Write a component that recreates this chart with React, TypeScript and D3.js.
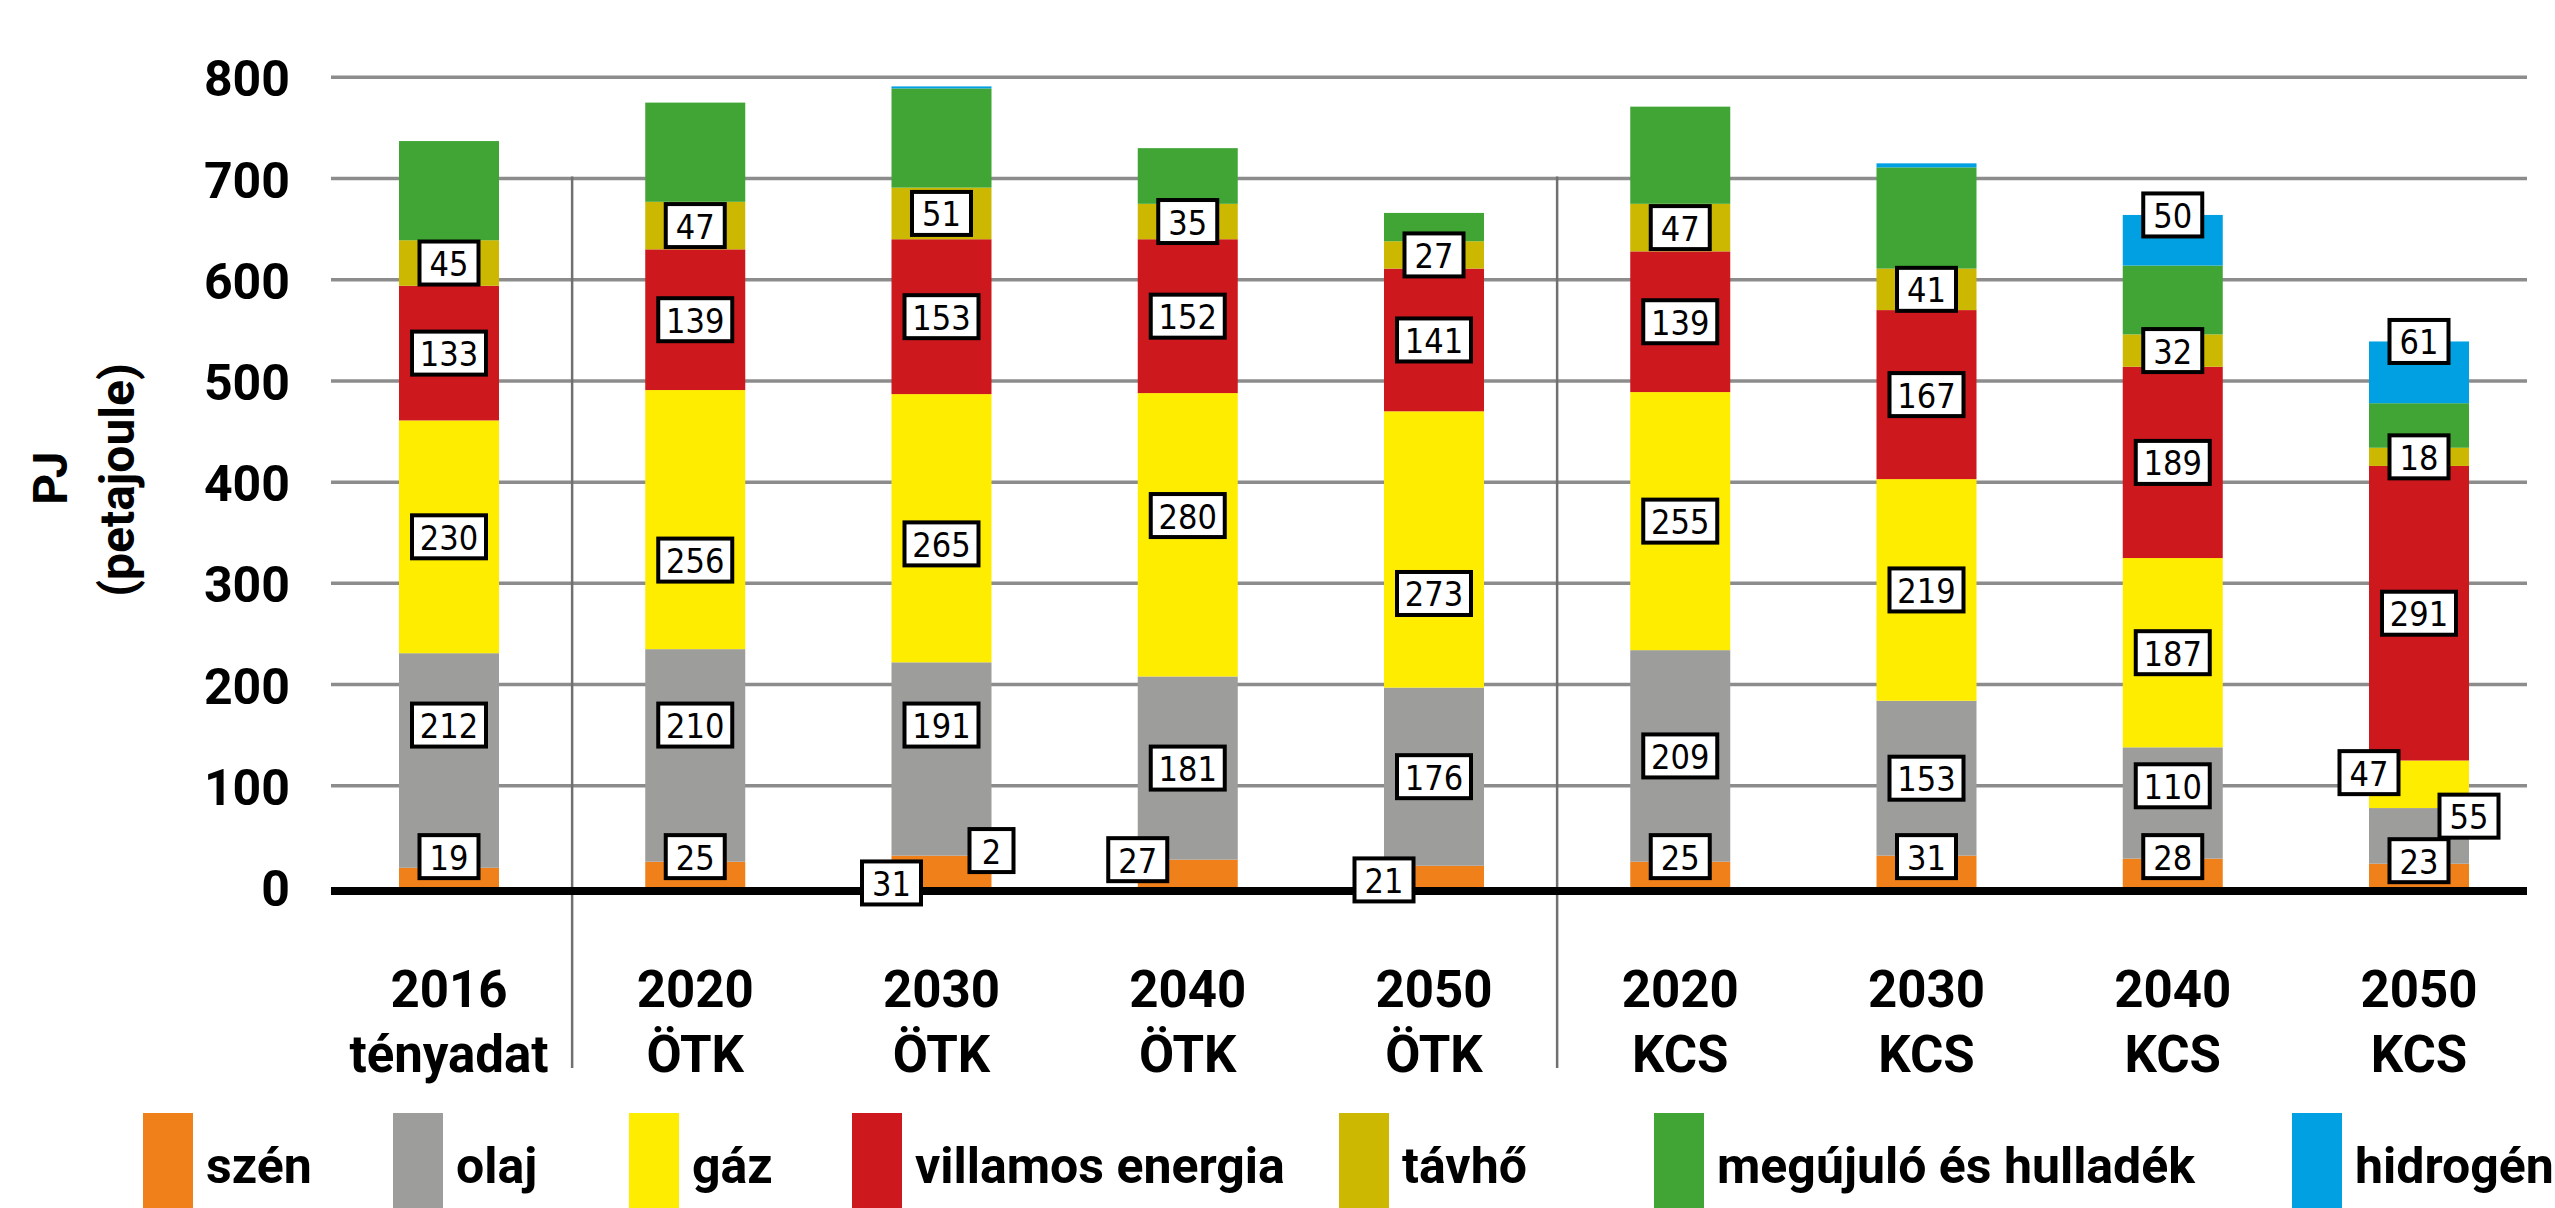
import React from 'react';
import * as d3 from 'd3';

// categories (two-line axis labels)
const categories = [
  ['2016', 'tényadat'],
  ['2020', 'ÖTK'],
  ['2030', 'ÖTK'],
  ['2040', 'ÖTK'],
  ['2050', 'ÖTK'],
  ['2020', 'KCS'],
  ['2030', 'KCS'],
  ['2040', 'KCS'],
  ['2050', 'KCS'],
];

const seriesNames = ['szén', 'olaj', 'gáz', 'villamos energia', 'távhő', 'megújuló és hulladék', 'hidrogén'];
const seriesColors = ['#F0811A', '#9D9D9C', '#FFED00', '#CD181E', '#CCB800', '#40A535', '#00A0E3'];

const szen = [19, 25, 31, 27, 21, 25, 31, 28, 23];
const olaj = [212, 210, 191, 181, 176, 209, 153, 110, 55];
const gaz = [230, 256, 265, 280, 273, 255, 219, 187, 47];
const villamos = [133, 139, 153, 152, 141, 139, 167, 189, 291];
const tavho = [45, 47, 51, 35, 27, 47, 41, 32, 18];
const megujulo = [98, 98, 98, 55, 28, 96, 100, 68, 44];
const hidrogen = [0, 0, 2, 0, 0, 0, 4, 50, 61];

const yTicks = [0, 100, 200, 300, 400, 500, 600, 700, 800];

// labels that are not shown, and labels moved off their default spot (value units / half bar widths)
const hiddenLabels = new Set(['megújuló és hulladék', '2030 KCS|hidrogén']);
const labelMoves: Record<string, { at: number; dx?: number }> = {
  '2016 tényadat|olaj': { at: 160 },
  '2020 ÖTK|olaj': { at: 160 },
  '2030 ÖTK|olaj': { at: 160 },
  '2040 KCS|olaj': { at: 100 },
  '2020 ÖTK|gáz': { at: 323 },
  '2030 ÖTK|gáz': { at: 339 },
  '2040 ÖTK|gáz': { at: 367 },
  '2050 ÖTK|gáz': { at: 290 },
  '2030 ÖTK|szén': { at: 4, dx: -1 },
  '2040 ÖTK|szén': { at: 27, dx: -1 },
  '2050 ÖTK|szén': { at: 7, dx: -1 },
  '2050 KCS|szén': { at: 26 },
  '2030 ÖTK|hidrogén': { at: 36, dx: 1 },
  '2050 KCS|gáz': { at: 113, dx: -1 },
  '2050 KCS|olaj': { at: 70, dx: 1 },
};

const legendX = [143, 393, 629, 852, 1339, 1654, 2292];

const W = 2555;
const H = 1208;
const FONT = 'Roboto, "Noto Sans", sans-serif';
const LABEL_FONT = '"Liberation Sans Narrow", "DejaVu Sans Condensed", sans-serif';

export default function App() {
  const keys = categories.map(c => c.join(' '));
  const values = [szen, olaj, gaz, villamos, tavho, megujulo, hidrogen];
  const rows = keys.map((k, i) => {
    const r: Record<string, any> = { cat: k };
    seriesNames.forEach((s, j) => { r[s] = values[j][i]; });
    return r;
  });
  const stacked = d3.stack().keys(seriesNames)(rows as any);

  const x = d3.scalePoint().domain(keys).range([449, 2419]);
  const y = d3.scaleLinear().domain([0, 800]).range([887, 77.3]);
  const barW = 100;
  const gridL = 331;
  const gridR = 2527;

  const seps = [0, 4].map(i => ((x(keys[i]) as number) + (x(keys[i + 1]) as number)) / 2);

  const labels: any[] = [];
  stacked.forEach((layer, si) => {
    const name = seriesNames[si];
    if (hiddenLabels.has(name)) return;
    layer.forEach((d, ci) => {
      const v = d[1] - d[0];
      const id = keys[ci] + '|' + name;
      if (!v || hiddenLabels.has(id)) return;
      let at = (d[0] + d[1]) / 2;
      if (name === 'szén') at = 30;
      if (name === 'hidrogén') at = d[1];
      let dx = 0;
      const mv = labelMoves[id];
      if (mv) { at = mv.at; dx = mv.dx || 0; }
      labels.push({ id, text: String(v), cx: (x(keys[ci]) as number) + dx * barW / 2, cy: y(at) });
    });
  });

  return (
    <svg width={W} height={H} style={{ position: 'absolute', left: 0, top: 0, background: '#fff' }}>
      {/* gridlines */}
      {yTicks.filter(t => t > 0).map(t => (
        <line key={t} x1={gridL} x2={gridR} y1={y(t)} y2={y(t)} stroke="#8c8c8c" strokeWidth={3.5} />
      ))}
      {/* group separators */}
      {seps.map((sx, i) => (
        <line key={i} x1={sx} x2={sx} y1={y(700) - 2} y2={1068} stroke="#707070" strokeWidth={2.5} />
      ))}
      {/* bars */}
      {stacked.map((layer, si) => (
        <g key={seriesNames[si]} fill={seriesColors[si]}>
          {layer.map((d, ci) => (d[1] - d[0] > 0 ? (
            <rect key={ci} x={(x(keys[ci]) as number) - barW / 2} width={barW}
              y={y(d[1])} height={y(d[0]) - y(d[1])} />
          ) : null))}
        </g>
      ))}
      {/* zero axis */}
      <line x1={gridL} x2={gridR} y1={y(0) + 4} y2={y(0) + 4} stroke="#000" strokeWidth={8} />
      {/* value labels */}
      {labels.map(l => {
        const bw = 15 * l.text.length + 29;
        return (
          <g key={l.id}>
            <rect x={l.cx - bw / 2} y={l.cy - 21.5} width={bw} height={43} fill="#fff" stroke="#000" strokeWidth={4} />
            <text x={l.cx} y={l.cy + 1} textAnchor="middle" dominantBaseline="central"
              fontFamily={LABEL_FONT} fontSize={34} fill="#000">{l.text}</text>
          </g>
        );
      })}
      {/* y ticks */}
      {yTicks.map(t => (
        <text key={t} x={290} y={y(t) + 2} textAnchor="end" dominantBaseline="central"
          fontFamily={FONT} fontWeight={700} fontSize={50} fill="#000">{t}</text>
      ))}
      {/* y title */}
      <text transform="translate(50,478) rotate(-90)" textAnchor="middle" dominantBaseline="central"
        fontFamily={FONT} fontWeight={700} fontSize={48} fill="#000">PJ</text>
      <text transform="translate(117,480) rotate(-90)" textAnchor="middle" dominantBaseline="central"
        fontFamily={FONT} fontWeight={700} fontSize={48} fill="#000">(petajoule)</text>
      {/* category labels */}
      {categories.map((c, i) => (
        <text key={i} x={x(keys[i])} textAnchor="middle" fontFamily={FONT} fontWeight={700} fontSize={51} fill="#000">
          <tspan x={x(keys[i])} y={1007}>{c[0]}</tspan>
          <tspan x={x(keys[i])} y={1072}>{c[1]}</tspan>
        </text>
      ))}
      {/* legend */}
      {seriesNames.map((s, i) => (
        <g key={s}>
          <rect x={legendX[i]} y={1113} width={50} height={H - 1113} fill={seriesColors[i]} />
          <text x={legendX[i] + 63} y={1183} fontFamily={FONT} fontWeight={700} fontSize={50} fill="#000">{s}</text>
        </g>
      ))}
    </svg>
  );
}
